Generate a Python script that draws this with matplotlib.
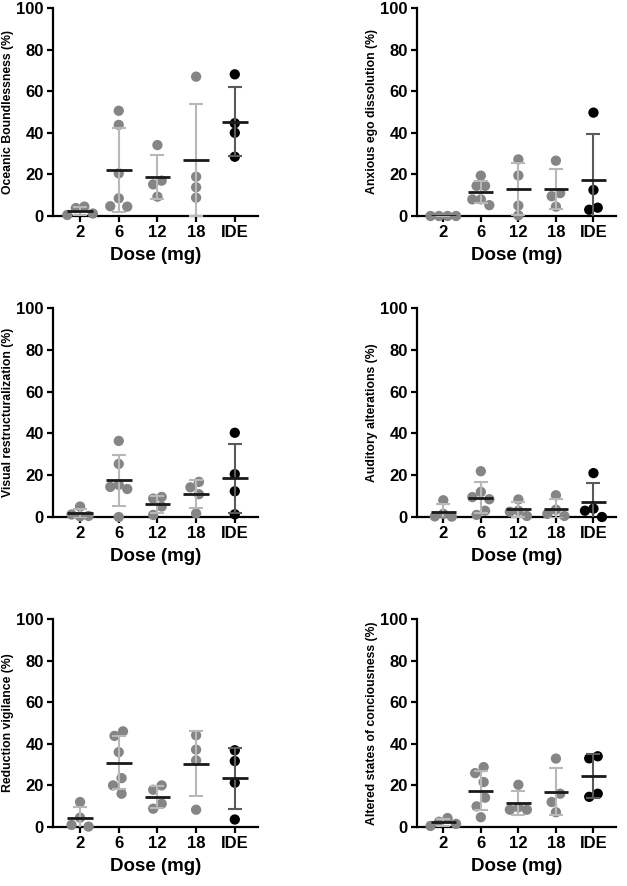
import numpy as np
import matplotlib.pyplot as plt

plt.rcParams['font.family'] = ['Liberation Sans', 'DejaVu Sans']
plt.rcParams['font.weight'] = 'bold'
plt.rcParams['axes.labelweight'] = 'bold'

doses = ['2', '6', '12', '18', 'IDE']

labels = ['Oceanic Boundlessness (%)', 'Anxious ego dissolution (%)',
          'Visual restructuralization (%)', 'Auditory alterations (%)',
          'Reduction vigilance (%)', 'Altered states of conciousness (%)']

# values per dose group (2, 6, 12, 18 mg, IDE)
oceanic = [[4.5, 3.8, 1.2, 0.5], [50.6, 43.8, 20.5, 8.5, 4.7, 4.5],
           [34.1, 17.0, 15.2, 9.3], [67.0, 18.9, 13.8, 8.8], [68.1, 44.6, 40.0, 28.5]]
anxious = [[0, 0, 0, 0], [19.4, 14.5, 14.5, 8.0, 8.0, 5.2],
           [27.2, 19.5, 5.0, 0.3], [26.6, 11.0, 9.5, 4.5], [49.7, 12.5, 4.0, 3.0]]
visual = [[5.0, 1.2, 0.5, 0.3], [36.4, 25.4, 15.4, 14.4, 13.4, 0.0],
          [9.6, 8.8, 5.0, 1.0], [16.8, 14.2, 10.9, 1.7], [40.3, 20.5, 12.3, 1.3]]
auditory = [[8.0, 1.5, 0.3, 0.2], [21.9, 12.0, 9.5, 8.5, 3.0, 1.0],
            [8.4, 3.0, 2.5, 0.5], [10.4, 3.5, 1.5, 0.5], [21.0, 4.0, 3.0, 0.0]]
vigilance = [[12.0, 4.5, 1.0, 0.2], [46.0, 43.8, 36.0, 23.5, 20.0, 16.0],
             [20.0, 17.9, 11.2, 8.8], [44.1, 37.2, 32.0, 8.3], [36.9, 31.7, 21.3, 3.6]]
altered = [[4.3, 2.5, 1.5, 0.5], [28.8, 25.9, 21.6, 14.1, 9.9, 4.7],
           [20.3, 9.5, 8.3, 8.3], [32.9, 16.0, 12.0, 7.1], [34.0, 33.0, 16.0, 14.5]]

panels = [oceanic, anxious, visual, auditory, vigilance, altered]

W, H = 627, 886
cols = [(53, 258), (417, 616)]
rows = [(8, 216), (308, 517), (619, 827)]
XLIM = (-0.7, 4.6)


def swarm(vals, ypx, D=9.5):
    # simple 1D beeswarm, returns slot offsets
    vals = np.asarray(vals, float)
    order = np.argsort(-vals, kind='stable')
    slots = np.zeros(len(vals))
    placed = []
    for i in order:
        y = vals[i] * ypx
        for s in [0, -1, 1, -2, 2, -3, 3]:
            if all(abs(y - py) >= D or ps != s for py, ps in placed):
                break
        placed.append((y, s))
        slots[i] = s
    # center connected rows
    ys = vals[order] * ypx
    start = 0
    for k in range(1, len(order) + 1):
        if k == len(order) or abs(ys[k - 1] - ys[k]) >= D:
            grp = order[start:k]
            slots[grp] -= slots[grp].mean()
            start = k
    return slots


fig = plt.figure(figsize=(W / 100, H / 100), dpi=100)

for n, data in enumerate(panels):
    x0, x1 = cols[n % 2]
    y0, y1 = rows[n // 2]
    ax = fig.add_axes([x0 / W, 1 - y1 / H, (x1 - x0) / W, (y1 - y0) / H])
    xpx = (x1 - x0) / (XLIM[1] - XLIM[0])
    ypx = (y1 - y0) / 100.0
    dx = 8.5 / xpx

    for i, vals in enumerate(data):
        vals = np.array(vals, float)
        ide = doses[i] == 'IDE'
        pc = 'black' if ide else '#858585'
        ec = '#5a5a5a' if ide else '#b8b8b8'
        m = vals.mean()
        sd = vals.std(ddof=1)
        xs = i + swarm(vals, ypx) * dx
        ax.scatter(xs, vals, s=55, color=pc, edgecolors='none', zorder=3, clip_on=False)
        ax.errorbar(i, m, yerr=sd, fmt='none', ecolor=ec, elinewidth=1.5,
                    capsize=4.7, capthick=1.5, zorder=4)
        ax.hlines(m, i - 0.33, i + 0.33, color='#1a1a1a', lw=2, zorder=5)

    ax.set_xlim(*XLIM)
    ax.set_ylim(0, 100)
    ax.set_yticks([0, 20, 40, 60, 80, 100])
    ax.set_xticks(range(len(doses)))
    ax.set_xticklabels(doses)
    for s in ['top', 'right']:
        ax.spines[s].set_visible(False)
    for s in ['left', 'bottom']:
        ax.spines[s].set_linewidth(1.6)
    ax.tick_params(direction='out', length=4, width=1.6, labelsize=12, pad=2.5)
    ax.set_ylabel(labels[n], fontsize=8.8, labelpad=2)
    ax.set_xlabel('Dose (mg)', fontsize=13.5, labelpad=5)

fig.savefig('out.png', dpi=100)
